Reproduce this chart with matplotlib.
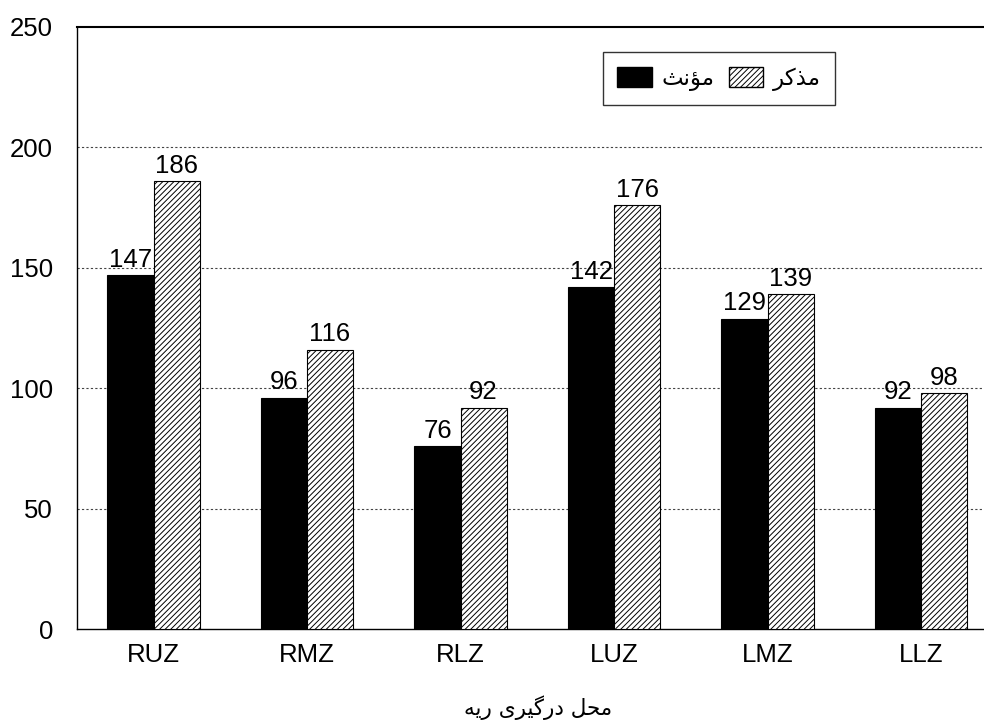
import numpy as np
import matplotlib
matplotlib.use('Agg')
from matplotlib import pyplot as plt
from matplotlib.patches import Patch

# data
categories = ['RUZ', 'RMZ', 'RLZ', 'LUZ', 'LMZ', 'LLZ']
female = [147, 96, 76, 142, 129, 92]     # مؤنث (black)
male = [186, 116, 92, 176, 139, 98]      # مذکر (hatched)
yticks = [0, 50, 100, 150, 200, 250]
label_female = 'مؤنث'
label_male = 'مذکر'
xlabel = 'محل درگیری ریه'

# matplotlib does no arabic shaping, so do it by hand with presentation forms
# letter: (isolated, final, initial, medial)  -- None for right-joining only
FORMS = {
    'م': (0xFEE1, 0xFEE2, 0xFEE3, 0xFEE4),
    'ذ': (0xFEAB, 0xFEAC, None, None),
    'ک': (0xFB8E, 0xFB8F, 0xFB90, 0xFB91),
    'ر': (0xFEAD, 0xFEAE, None, None),
    'ؤ': (0xFE85, 0xFE86, None, None),
    'ن': (0xFEE5, 0xFEE6, 0xFEE7, 0xFEE8),
    'ث': (0xFE99, 0xFE9A, 0xFE9B, 0xFE9C),
    'ح': (0xFEA1, 0xFEA2, 0xFEA3, 0xFEA4),
    'ل': (0xFEDD, 0xFEDE, 0xFEDF, 0xFEE0),
    'د': (0xFEA9, 0xFEAA, None, None),
    'گ': (0xFB92, 0xFB93, 0xFB94, 0xFB95),
    'ی': (0xFBFC, 0xFBFD, 0xFBFE, 0xFBFF),
    'ه': (0xFEE9, 0xFEEA, 0xFEEB, 0xFEEC),
}


def shape(text):
    out = []
    for i, c in enumerate(text):
        if c not in FORMS:
            out.append(c)
            continue
        f = FORMS[c]
        prev = text[i-1] if i > 0 else ''
        nxt = text[i+1] if i+1 < len(text) else ''
        pj = prev in FORMS and FORMS[prev][2] is not None
        nj = nxt in FORMS and f[2] is not None
        if pj and nj:
            k = 3
        elif pj:
            k = 1
        elif nj:
            k = 2
        else:
            k = 0
        out.append(chr(f[k]))
    return ''.join(out)[::-1]


plt.rcParams['font.family'] = ['Liberation Sans', 'DejaVu Sans']
plt.rcParams['hatch.linewidth'] = 0.7

fig = plt.figure(figsize=(9.84, 7.2), dpi=100)
ax = fig.add_axes([0.078, 0.126, 0.922, 0.8365])

x = np.arange(len(categories))
w = 0.3
ax.bar(x - w/2, female, w, color='black', edgecolor='black', linewidth=0.8, zorder=3)
ax.bar(x + w/2, male, w, color='white', edgecolor='black', hatch='//////',
       linewidth=0.8, zorder=3)

for xi, v in zip(x - w/2, female):
    ax.text(xi, v + 1.5, str(v), ha='center', va='bottom', fontsize=18.5, zorder=4)
for xi, v in zip(x + w/2, male):
    ax.text(xi, v + 1.5, str(v), ha='center', va='bottom', fontsize=18.5, zorder=4)

ax.set_xlim(-0.5, 5.41)
ax.set_ylim(0, 250)
ax.set_yticks(yticks)
ax.set_xticks(x)
ax.set_xticklabels(categories)
ax.tick_params(length=0, labelsize=18.5, pad=10)
ax.tick_params(axis='y', pad=17)

for yv in yticks[1:-1]:
    ax.axhline(yv, color='#444444', linestyle=(0, (2, 2)), linewidth=0.8, zorder=1)

ax.spines['right'].set_visible(False)
ax.spines['top'].set_linewidth(1.5)
ax.spines['left'].set_linewidth(1.0)
ax.spines['bottom'].set_linestyle((0, (2, 1)))
ax.spines['bottom'].set_linewidth(1.0)

fig.text(538 / 984, 1 - 708 / 720, shape(xlabel), fontsize=15.5,
         family=['DejaVu Sans'], ha='center', va='center')

handles = [Patch(facecolor='black', edgecolor='black'),
           Patch(facecolor='white', edgecolor='black', hatch='//////')]
leg = ax.legend(handles, [shape(label_female), shape(label_male)], ncol=2,
                loc='upper left', bbox_to_anchor=(0.58, 0.958), borderaxespad=0,
                prop={'family': 'DejaVu Sans', 'size': 16.5},
                frameon=True, fancybox=False, edgecolor='black',
                handlelength=1.5, handleheight=1.0, columnspacing=0.6,
                borderpad=0.62, handletextpad=0.45)
leg.get_frame().set_linewidth(1.0)

fig.savefig('out.png', dpi=100)
